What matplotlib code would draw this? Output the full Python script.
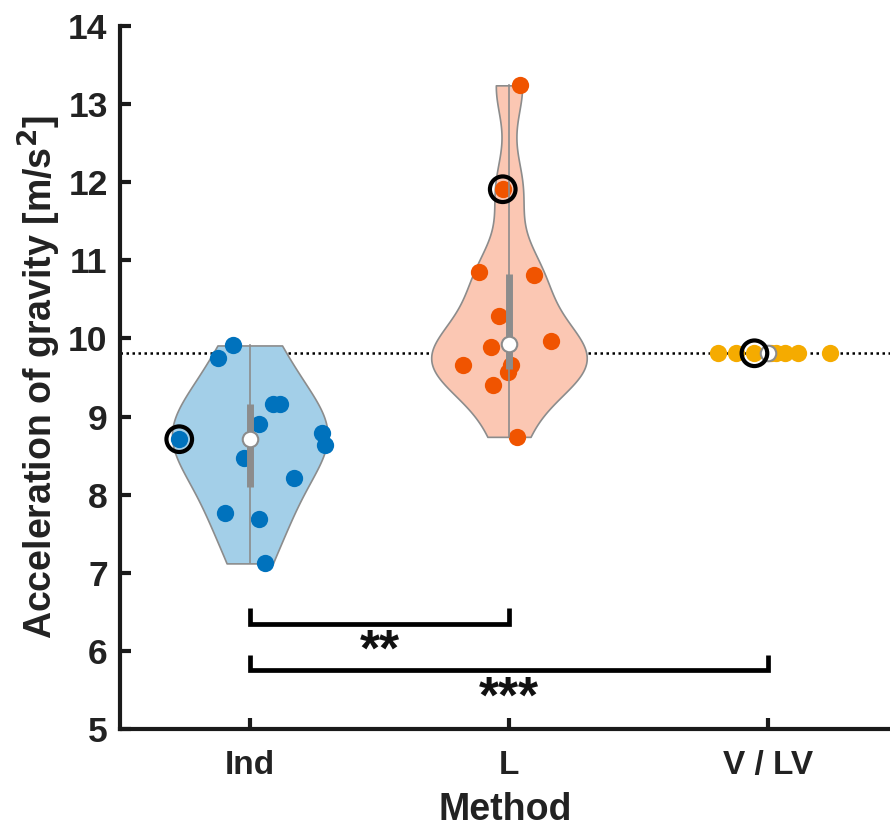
import numpy as np
import matplotlib
matplotlib.use("Agg")
import matplotlib.pyplot as plt

# ---- data ----
categories = ["Ind", "L", "V / LV"]
ind_values = [9.91, 9.75, 9.16, 9.16, 8.91, 8.71, 8.79, 8.64, 8.47, 8.21, 7.76, 7.69, 7.12]
ind_jitter = [-0.063, -0.124, 0.091, 0.117, 0.037, -0.272, 0.277, 0.290, -0.024, 0.171, -0.095, 0.034, 0.057]
l_values = [13.24, 11.91, 10.85, 10.81, 10.29, 9.97, 9.89, 9.66, 9.66, 9.57, 9.40, 8.74]
l_jitter = [0.042, -0.024, -0.114, 0.096, -0.039, 0.162, -0.071, -0.176, 0.008, -0.003, -0.061, 0.030]
v_values = [9.81, 9.81, 9.81, 9.81, 9.81, 9.81, 9.81, 9.81]
v_jitter = [-0.194, -0.123, -0.053, 0.012, 0.031, 0.066, 0.117, 0.239]
highlight_index = [5, 1, 2]   # circled point in each group
g_ref = 9.81
brackets = [(1, 2, "**", 6.35), (1, 3, "***", 5.75)]

colors = ["#0072BD", "#F05400", "#F5AB00"]
fills = ["#A3CFE8", "#FBC7B3", "#FDE4A8"]
bandwidths = [0.52, 0.42, None]
groups = [ind_values, l_values, v_values]
jitters = [ind_jitter, l_jitter, v_jitter]

plt.rcParams['font.family'] = ['Liberation Sans', 'DejaVu Sans']
plt.rcParams['font.weight'] = 'bold'

fig = plt.figure(figsize=(8.9, 8.27), dpi=100)
ax = fig.add_axes([0.135, 0.1185, 0.865, 0.8501])

grey = "#8C8C8C"
for i, (vals, jit) in enumerate(zip(groups, jitters)):
    pos = i + 1
    v = np.asarray(vals, dtype=float)
    if np.ptp(v) > 0:
        factor = bandwidths[i] / np.std(v, ddof=1)
        parts = ax.violinplot([v], positions=[pos], widths=0.6, showextrema=False,
                              bw_method=factor, points=200)
        for b in parts['bodies']:
            b.set_facecolor(fills[i])
            b.set_edgecolor(grey)
            b.set_linewidth(1.2)
            b.set_alpha(1)
            b.set_zorder(1)
    # points
    ax.scatter(pos + np.asarray(jit), v, s=155, color=colors[i], zorder=2, linewidths=0)
    # whisker / box / median
    q1, q2, q3 = np.percentile(v, [25, 50, 75], method='hazen')
    if np.ptp(v) > 0:
        ax.plot([pos, pos], [v.min(), v.max()], color=grey, lw=1.2, zorder=3)
        ax.plot([pos, pos], [q1, q3], color=grey, lw=5, solid_capstyle='butt', zorder=3)
    ax.scatter([pos], [q2], s=125, facecolor='white', edgecolor=grey, linewidths=1.5, zorder=4)
    hi = highlight_index[i]
    ax.scatter([pos + jit[hi]], [vals[hi]], s=340, facecolor='none', edgecolor='black',
               linewidths=3.0, zorder=5)

ax.axhline(g_ref, color='black', lw=1.8, ls=(0, (1, 1.4)), zorder=0)

for a, b, label, yb in brackets:
    ax.plot([a, a, b, b], [yb + 0.2, yb, yb, yb + 0.2], color='black', lw=3.4,
            solid_joinstyle='miter', solid_capstyle='butt', zorder=6)
    ax.text((a + b) / 2, yb - 0.545, label, ha='center', va='baseline', fontsize=37,
            fontweight='bold', color='#111111')

ax.set_xlim(0.5, 3.47)
ax.set_ylim(5, 14)
ax.set_xticks([1, 2, 3])
ax.set_xticklabels(categories)
ax.set_yticks(np.arange(5, 15, 1))
for s in ['top', 'right']:
    ax.spines[s].set_visible(False)
for s in ['left', 'bottom']:
    ax.spines[s].set_linewidth(3)
    ax.spines[s].set_color('#1a1a1a')
ax.tick_params(axis='both', direction='in', length=8, width=3, colors='#1a1a1a',
               labelcolor='#222222')
ax.tick_params(axis='x', pad=15, labelsize=24)
ax.tick_params(axis='y', pad=9, labelsize=25.5)
ax.set_xlabel("Method", fontsize=27, fontweight='bold', color='#222222', labelpad=8)
ax.set_ylabel("Acceleration of gravity [m/s$^\\mathbf{2}$]", fontsize=27,
              fontweight='bold', color='#222222', labelpad=4)

fig.savefig("out.png", dpi=100)
